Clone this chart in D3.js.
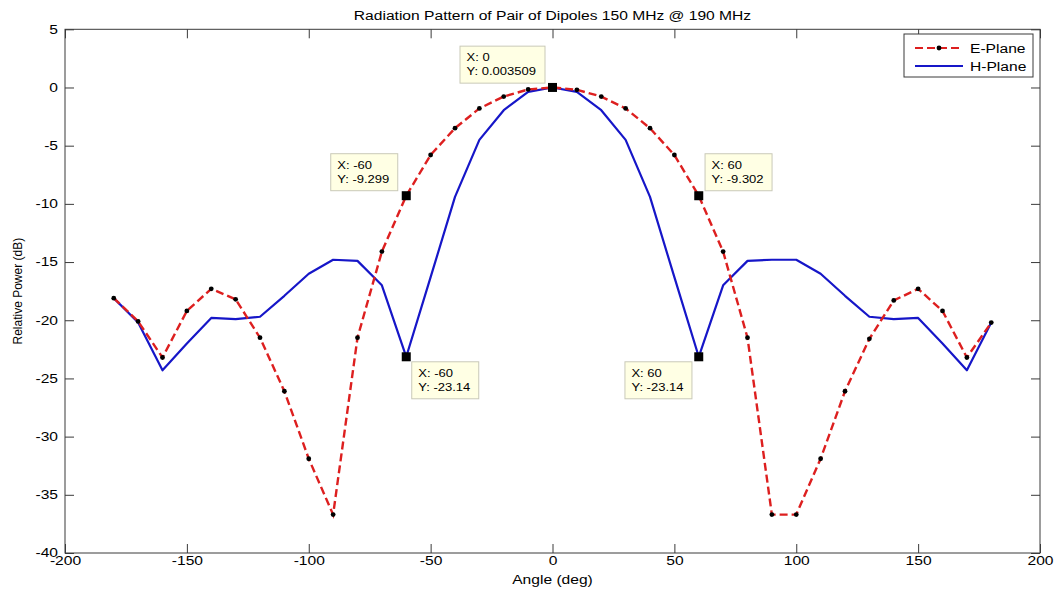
<!DOCTYPE html>
<html>
<head>
<meta charset="utf-8">
<script src="https://cdn.jsdelivr.net/npm/d3@7"></script>
<style>
  html, body { margin: 0; padding: 0; background: #fff; }
  svg { display: block; }
  text { font-family: "Liberation Sans", Arial, sans-serif; fill: #000; }
</style>
</head>
<body>
<svg id="chart" width="1058" height="594"></svg>
<script>
// ---- data ----
const angles = d3.range(-180, 181, 10);
const ePlane = [-18.1, -20.1, -23.2, -19.2, -17.3, -18.2, -21.5, -26.1, -31.9, -36.7,
  -21.5, -14.1, -9.299, -5.8, -3.5, -1.8, -0.78, -0.17, 0.003509,
  -0.2, -0.78, -1.8, -3.5, -5.8, -9.302, -14.1, -21.5, -36.7, -36.7,
  -31.9, -26.1, -21.6, -18.3, -17.3, -19.2, -23.2, -20.2];
const hPlane = [-18.1, -20.2, -24.3, -22.0, -19.8, -19.9, -19.7, -17.9, -16.0, -14.8,
  -14.9, -17.0, -23.14, -16.3, -9.4, -4.5, -1.95, -0.37, 0,
  -0.37, -1.95, -4.5, -9.4, -16.3, -23.14, -17.0, -14.9, -14.8, -14.8,
  -16.0, -17.9, -19.7, -19.9, -19.8, -22.0, -24.3, -20.2];
const xTicks = [-200, -150, -100, -50, 0, 50, 100, 150, 200];
const yTicks = [5, 0, -5, -10, -15, -20, -25, -30, -35, -40];
const seriesNames = ["E-Plane", "H-Plane"];
const tipX = [0, -60, 60, -60, 60];
const tipY = [0.003509, -9.299, -9.302, -23.14, -23.14];
const tipYLabel = ["0.003509", "-9.299", "-9.302", "-23.14", "-23.14"];
const titleText = "Radiation Pattern of Pair of Dipoles 150 MHz @ 190 MHz";
const xLabel = "Angle (deg)";
const yLabel = "Relative Power (dB)";

// ---- layout ----
const L = 65, R = 1040, T = 29.3, B = 553;
const STRETCH = 1.3;
const svg = d3.select("#chart");
const x = d3.scaleLinear().domain([-200, 200]).range([L, R]);
const y = d3.scaleLinear().domain([-40, 5]).range([B, T]);

function stretch(sel, k) {
  sel.each(function () {
    const len = this.getComputedTextLength();
    d3.select(this).attr("textLength", len * (k || STRETCH)).attr("lengthAdjust", "spacingAndGlyphs");
  });
}

svg.append("rect").attr("width", 1058).attr("height", 594).attr("fill", "#fff");

// axes box
svg.append("rect").attr("x", L).attr("y", T).attr("width", R - L).attr("height", B - T)
  .attr("fill", "#fff").attr("stroke", "#3a3a3a").attr("stroke-width", 1);

const fmt = d => String(d);
const tickLen = 9;
const gx = svg.append("g").attr("transform", `translate(0,${B})`)
  .call(d3.axisBottom(x).tickValues(xTicks).tickFormat(fmt).tickSizeInner(-tickLen).tickSizeOuter(0).tickPadding(5));
const gxt = svg.append("g").attr("transform", `translate(0,${T})`)
  .call(d3.axisTop(x).tickValues(xTicks).tickFormat("").tickSizeInner(-tickLen).tickSizeOuter(0));
const gy = svg.append("g").attr("transform", `translate(${L},0)`)
  .call(d3.axisLeft(y).tickValues(yTicks).tickFormat(fmt).tickSizeInner(-tickLen).tickSizeOuter(0).tickPadding(7));
const gyr = svg.append("g").attr("transform", `translate(${R},0)`)
  .call(d3.axisRight(y).tickValues(yTicks).tickFormat("").tickSizeInner(-tickLen).tickSizeOuter(0));
[gx, gxt, gy, gyr].forEach(g => {
  g.select(".domain").remove();
  g.selectAll("line").attr("stroke", "#3a3a3a");
  g.selectAll("text").attr("font-size", 12).attr("font-family", "Liberation Sans, Arial, sans-serif").attr("fill", "#000");
});
gx.selectAll("text").attr("dy", "0.71em").attr("y", 3);
gy.selectAll("text").attr("x", -7);
stretch(gx.selectAll("text"));
stretch(gy.selectAll("text"));

// title and labels
svg.append("text").attr("x", (L + R) / 2).attr("y", 20).attr("text-anchor", "middle")
  .attr("font-size", 12).text(titleText).call(stretch);
svg.append("text").attr("x", (L + R) / 2).attr("y", 584).attr("text-anchor", "middle")
  .attr("font-size", 12).text(xLabel).call(stretch);
svg.append("text").attr("transform", `translate(22,${(T + B) / 2}) rotate(-90)`)
  .attr("text-anchor", "middle").attr("font-size", 12).text(yLabel);

// lines
const line = d3.line().x((d, i) => x(angles[i])).y(d => y(d));
const eColor = "#dd1f1f", hColor = "#1616c8";
svg.append("path").datum(hPlane).attr("d", line).attr("fill", "none")
  .attr("stroke", hColor).attr("stroke-width", 2.2).attr("stroke-linejoin", "round");
svg.append("path").datum(ePlane).attr("d", line).attr("fill", "none")
  .attr("stroke", eColor).attr("stroke-width", 2.4).attr("stroke-dasharray", "8,4");
svg.append("g").selectAll("circle").data(ePlane).join("circle")
  .attr("cx", (d, i) => x(angles[i])).attr("cy", d => y(d)).attr("r", 2.4).attr("fill", "#000");

// data tips
const tipPlace = [[-92.5, -41.3, 85], [-75.5, -42, 67], [6.3, -42, 67], [5.5, 5, 67], [-73.8, 5, 67]];
const tips = svg.append("g");
tipX.forEach((tx, i) => {
  const px = x(tx), py = y(tipY[i]);
  const [dx, dy, w] = tipPlace[i];
  const bx = px + dx, by = py + dy;
  tips.append("rect").attr("x", bx).attr("y", by).attr("width", w).attr("height", 37)
    .attr("fill", "#ffffe4").attr("stroke", "#c9c9b8").attr("stroke-width", 1);
  tips.append("text").attr("x", bx + 6.5).attr("y", by + 15).attr("font-size", 10)
    .text("X: " + tx).call(stretch);
  tips.append("text").attr("x", bx + 6.5).attr("y", by + 29).attr("font-size", 10)
    .text("Y: " + tipYLabel[i]).call(stretch);
  tips.append("rect").attr("x", px - 4.5).attr("y", py - 4.5).attr("width", 9).attr("height", 9).attr("fill", "#000");
});

// legend
const lg = svg.append("g");
lg.append("rect").attr("x", 904).attr("y", 34).attr("width", 129).attr("height", 43)
  .attr("fill", "#fff").attr("stroke", "#3a3a3a").attr("stroke-width", 1);
lg.append("line").attr("x1", 915).attr("x2", 963).attr("y1", 48).attr("y2", 48)
  .attr("stroke", eColor).attr("stroke-width", 2).attr("stroke-dasharray", "8,4");
lg.append("circle").attr("cx", 939).attr("cy", 48).attr("r", 2.4).attr("fill", "#000");
lg.append("line").attr("x1", 915).attr("x2", 963).attr("y1", 66).attr("y2", 66)
  .attr("stroke", hColor).attr("stroke-width", 2);
lg.append("text").attr("x", 970).attr("y", 52.5).attr("font-size", 12).text(seriesNames[0]).call(stretch);
lg.append("text").attr("x", 970).attr("y", 70.5).attr("font-size", 12).text(seriesNames[1]).call(stretch);
</script>
</body>
</html>
